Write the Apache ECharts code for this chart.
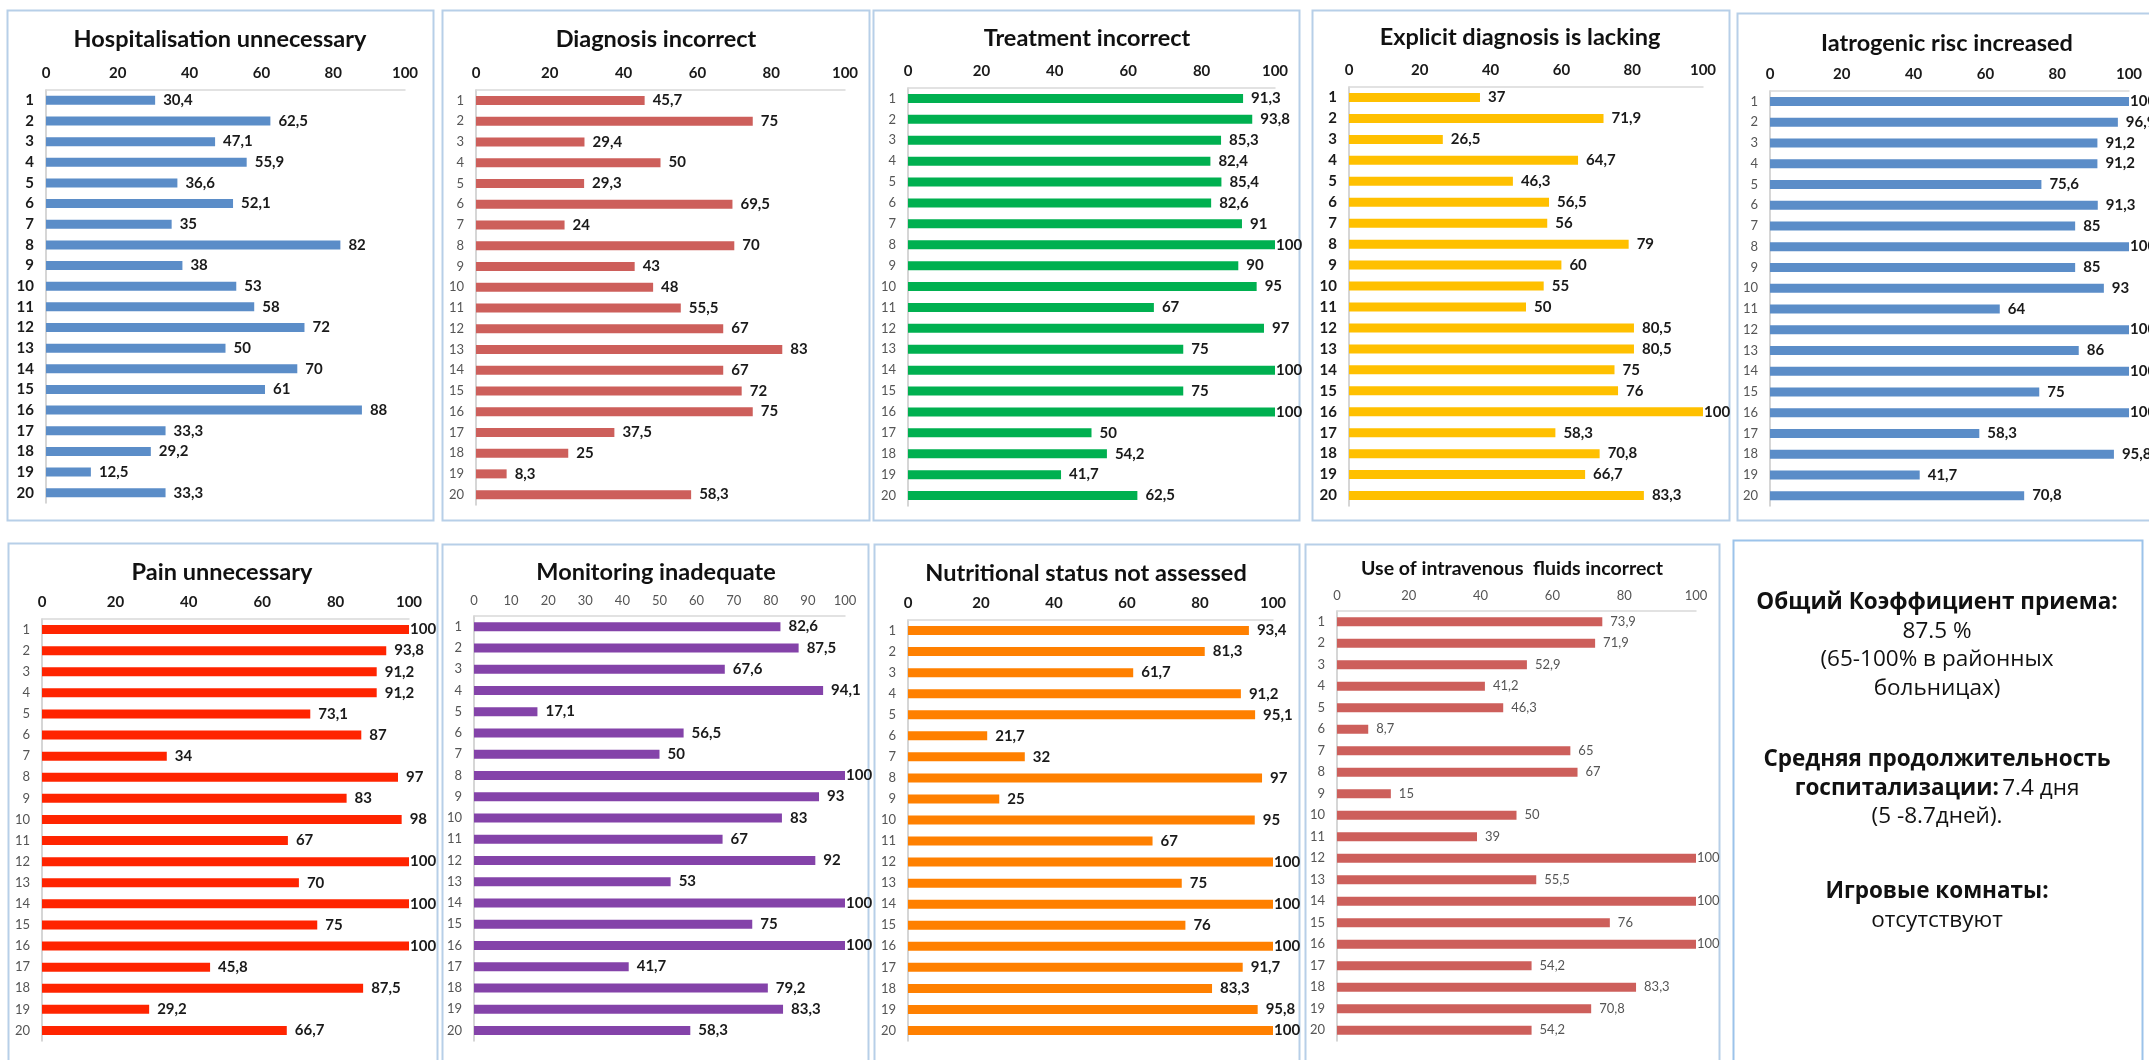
<!DOCTYPE html>
<html>
<head>
<meta charset="utf-8">
<script src="https://cdn.jsdelivr.net/npm/echarts@6/dist/echarts.min.js"></script>
<style>
  html, body { margin: 0; padding: 0; background: #fff; }
  #main { width: 2149px; height: 1060px; }
</style>
</head>
<body>
<div id="main"></div>
<script>
// hospital numbers 1..20
var categories = ['1', '2', '3', '4', '5', '6', '7', '8', '9', '10',
                  '11', '12', '13', '14', '15', '16', '17', '18', '19', '20'];

var hospitalisation = [30.4, 62.5, 47.1, 55.9, 36.6, 52.1, 35, 82, 38, 53, 58, 72, 50, 70, 61, 88, 33.3, 29.2, 12.5, 33.3];
var diagnosis = [45.7, 75, 29.4, 50, 29.3, 69.5, 24, 70, 43, 48, 55.5, 67, 83, 67, 72, 75, 37.5, 25, 8.3, 58.3];
var treatment = [91.3, 93.8, 85.3, 82.4, 85.4, 82.6, 91, 100, 90, 95, 67, 97, 75, 100, 75, 100, 50, 54.2, 41.7, 62.5];
var explicitDiag = [37, 71.9, 26.5, 64.7, 46.3, 56.5, 56, 79, 60, 55, 50, 80.5, 80.5, 75, 76, 100, 58.3, 70.8, 66.7, 83.3];
var iatrogenic = [100, 96.9, 91.2, 91.2, 75.6, 91.3, 85, 100, 85, 93, 64, 100, 86, 100, 75, 100, 58.3, 95.8, 41.7, 70.8];
var pain = [100, 93.8, 91.2, 91.2, 73.1, 87, 34, 97, 83, 98, 67, 100, 70, 100, 75, 100, 45.8, 87.5, 29.2, 66.7];
var monitoring = [82.6, 87.5, 67.6, 94.1, 17.1, 56.5, 50, 100, 93, 83, 67, 92, 53, 100, 75, 100, 41.7, 79.2, 83.3, 58.3];
var nutrition = [93.4, 81.3, 61.7, 91.2, 95.1, 21.7, 32, 97, 25, 95, 67, 100, 75, 100, 76, 100, 91.7, 83.3, 95.8, 100];
var fluids = [73.9, 71.9, 52.9, 41.2, 46.3, 8.7, 65, 67, 15, 50, 39, 100, 55.5, 100, 76, 100, 54.2, 83.3, 70.8, 54.2];

var panelTitles = ['Hospitalisation unnecessary', 'Diagnosis incorrect', 'Treatment incorrect',
                   'Explicit diagnosis is lacking', 'Iatrogenic risc increased', 'Pain unnecessary',
                   'Monitoring inadequate', 'Nutritional status not assessed', 'Use of intravenous  fluids incorrect'];
var panelSeries = [hospitalisation, diagnosis, treatment, explicitDiag, iatrogenic, pain, monitoring, nutrition, fluids];
var panelColors = ['#5B8DC8', '#CD5F5B', '#00B050', '#FFC000', '#5B8DC8', '#FF2400', '#8443A9', '#FF8000', '#CD5F5B'];

var infoParagraphs = [
    ['{b|Общий Коэффициент приема:}', '{n|87.5 %}', '{n|(65-100% в районных}', '{n|больницах)}'],
    ['{b|Средняя продолжительность}', '{b|госпитализации:} {n|7.4 дня}', '{n|(5 -8.7дней).}'],
    ['{b|Игровые комнаты:}', '{n|отсутствуют}']
];

// layout: box [x, y, w, h], grid [left, top, width, height], title centre
var layout = [
    { box: [7, 10, 426, 510], grid: [46, 90, 359, 413], title: [220, 39], titleSize: 23.5, tick: 20, catBold: true, tickBold: true, valBold: true },
    { box: [442, 10, 427, 510], grid: [476, 90, 369, 415], title: [656, 39], titleSize: 23.5, tick: 20, catBold: false, tickBold: true, valBold: true },
    { box: [873, 10, 426, 510], grid: [908, 88, 367, 418], title: [1087, 38], titleSize: 23.5, tick: 20, catBold: false, tickBold: true, valBold: true },
    { box: [1312, 10, 417, 510], grid: [1349, 87, 354, 419], title: [1520, 37], titleSize: 23.5, tick: 20, catBold: true, tickBold: true, valBold: true },
    { box: [1737, 13, 430, 507], grid: [1770, 91, 359, 415], title: [1947, 43], titleSize: 23.5, tick: 20, catBold: false, tickBold: true, valBold: true },
    { box: [8, 543, 429, 530], grid: [42, 619, 367, 422], title: [222, 572], titleSize: 23.5, tick: 20, catBold: false, tickBold: true, valBold: true },
    { box: [442, 544, 426, 530], grid: [474, 616, 371, 425], title: [656, 572], titleSize: 23.5, tick: 10, catBold: false, tickBold: false, valBold: true },
    { box: [874, 544, 425, 530], grid: [908, 620, 365, 421], title: [1086, 573], titleSize: 23.5, tick: 20, catBold: false, tickBold: true, valBold: true },
    { box: [1305, 544, 414, 530], grid: [1337, 611, 359, 430], title: [1512, 569], titleSize: 19.5, tick: 20, catBold: false, tickBold: false, valBold: false }
];

var FONT = 'Lato, "Open Sans", sans-serif';

var chart = echarts.init(document.getElementById('main'));

var grids = [], xAxes = [], yAxes = [], series = [], graphics = [];

layout.forEach(function (L, i) {
    graphics.push({
        type: 'rect', silent: true, z: -1,
        shape: { x: L.box[0] + 0.5, y: L.box[1] + 0.5, width: L.box[2], height: L.box[3] },
        style: { fill: '#fff', stroke: '#B7CFE8', lineWidth: 2 }
    });
    graphics.push({
        type: 'text', silent: true,
        x: L.title[0], y: L.title[1],
        style: {
            text: panelTitles[i], fontFamily: FONT, fontSize: L.titleSize, fontWeight: 'bold',
            fill: '#111', align: 'center', verticalAlign: 'middle',
            textAlign: 'center', textVerticalAlign: 'middle'
        }
    });
    grids.push({ left: L.grid[0], top: L.grid[1], width: L.grid[2], height: L.grid[3], containLabel: false });
    xAxes.push({
        gridIndex: i, type: 'value', position: 'top', min: 0, max: 100, interval: L.tick,
        axisLine: { show: true, lineStyle: { color: '#D9D9D9', width: 1.5 } },
        axisTick: { show: false },
        splitLine: { show: false },
        axisLabel: {
            margin: 9, fontFamily: FONT,
            fontSize: L.tickBold ? 15 : 13,
            fontWeight: L.tickBold ? 'bold' : 'normal',
            color: L.tickBold ? '#1a1a1a' : '#555'
        }
    });
    yAxes.push({
        gridIndex: i, type: 'category', data: categories, inverse: true,
        axisLine: { show: true, lineStyle: { color: '#C8C8C8', width: 1.5 } },
        axisTick: { show: false },
        axisLabel: {
            margin: 12, fontFamily: FONT,
            fontSize: L.catBold ? 15 : 13,
            fontWeight: L.catBold ? 'bold' : 'normal',
            color: L.catBold ? '#1a1a1a' : '#555'
        }
    });
    series.push({
        type: 'bar', xAxisIndex: i, yAxisIndex: i,
        barWidth: 9,
        silent: true,
        itemStyle: { color: panelColors[i] },
        data: panelSeries[i].map(function (v) {
            // Excel pulls the label of a full bar back inside the plot edge
            return v === 100 ? { value: v, label: { distance: 1 } } : v;
        }),
        label: {
            show: true, position: 'right', distance: 8,
            fontFamily: FONT,
            fontSize: L.valBold ? 15 : 13,
            fontWeight: L.valBold ? 'bold' : 'normal',
            color: L.valBold ? '#1a1a1a' : '#555',
            formatter: function (p) { return String(p.value).replace('.', ','); }
        }
    });
});

// text box on the right of the bottom row
graphics.push({
    type: 'rect', silent: true, z: -1,
    shape: { x: 1733.5, y: 540.5, width: 409, height: 540 },
    style: { fill: '#fff', stroke: '#9CC3EA', lineWidth: 2 }
});
var paragraphTop = [603, 760, 892];
infoParagraphs.forEach(function (lines, p) {
    lines.forEach(function (line, k) {
        graphics.push({
            type: 'text', silent: true,
            x: 1937, y: paragraphTop[p] + k * 28.5,
            style: {
                text: line, align: 'center', verticalAlign: 'middle',
                textAlign: 'center', textVerticalAlign: 'middle',
                rich: {
                    b: { fontFamily: '"Open Sans", sans-serif', fontSize: 22.5, fontWeight: 'bold', fill: '#111', color: '#111' },
                    n: { fontFamily: '"Open Sans", sans-serif', fontSize: 22.5, fontWeight: 'normal', fill: '#111', color: '#111' }
                }
            }
        });
    });
});

var option = {
    animation: false,
    backgroundColor: '#fff',
    graphic: graphics,
    grid: grids,
    xAxis: xAxes,
    yAxis: yAxes,
    series: series
};
chart.setOption(option);
</script>
</body>
</html>
